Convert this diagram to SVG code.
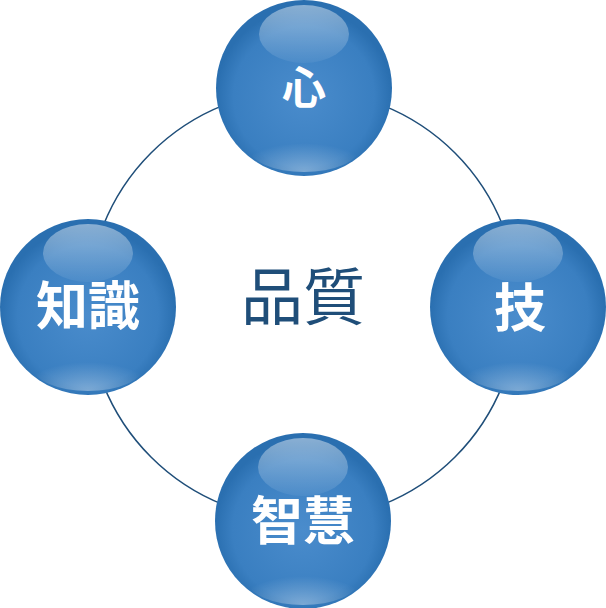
<svg xmlns="http://www.w3.org/2000/svg" width="606" height="608" viewBox="0 0 606 608">
<defs>
<radialGradient id="ball" cx="0.5" cy="0.55" r="0.5">
<stop offset="0" stop-color="#4a8ccc"/><stop offset="0.8" stop-color="#3a7fc1"/><stop offset="1" stop-color="#2a6fb0"/>
</radialGradient>
<linearGradient id="hi" x1="0" y1="0" x2="0" y2="1">
<stop offset="0" stop-color="#fff" stop-opacity="0.45"/><stop offset="1" stop-color="#fff" stop-opacity="0.05"/>
</linearGradient>
<radialGradient id="lo" cx="0.5" cy="1" r="0.6">
<stop offset="0" stop-color="#fff" stop-opacity="0.35"/><stop offset="1" stop-color="#fff" stop-opacity="0"/>
</radialGradient>
<g id="sphere">
<circle r="88" fill="url(#ball)"/>
<ellipse cx="0" cy="-54" rx="45" ry="29" fill="url(#hi)"/>
<ellipse cx="0" cy="60" rx="55" ry="24" fill="url(#lo)"/>
</g>
</defs>
<style>
.t{fill:#fff;font-family:"Noto Sans CJK JP","Noto Sans CJK SC",sans-serif;font-weight:bold;text-anchor:middle}
</style>
<g id="connectors"><circle cx="303" cy="305" r="215" fill="none" stroke="#1f4e79" stroke-width="1.5"/></g>
<g id="center"><text x="303" y="320" font-family="Noto Sans CJK JP,Noto Sans CJK SC,sans-serif" font-size="62" fill="#1f4e79" text-anchor="middle">品質</text></g>
<g id="n-top"><use href="#sphere" x="304" y="88"/><text class="t" x="304" y="104" font-size="44">心</text></g>
<g id="n-left"><use href="#sphere" x="88" y="307"/><text class="t" x="88" y="325" font-size="52">知識</text></g>
<g id="n-right"><use href="#sphere" x="518" y="307"/><text class="t" x="520" y="327" font-size="52">技</text></g>
<g id="n-bottom"><use href="#sphere" x="303" y="521"/><text class="t" x="303" y="540" font-size="52">智慧</text></g>
</svg>
